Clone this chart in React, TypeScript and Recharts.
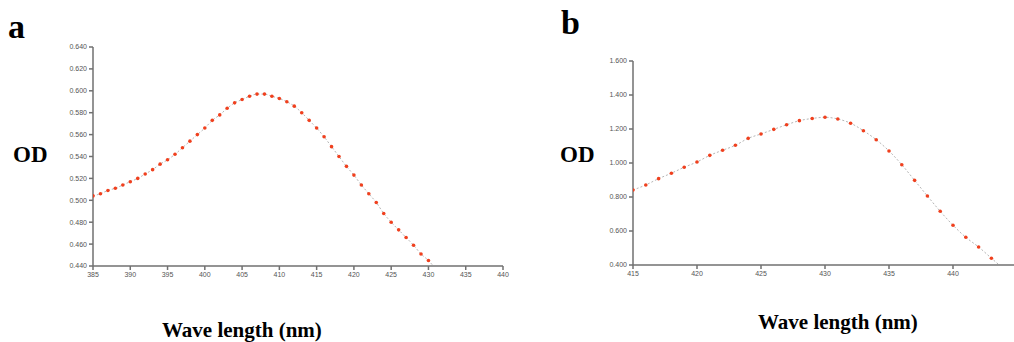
import React from 'react'
import { LineChart, Line, XAxis, YAxis } from 'recharts'

// panel a: wavelength (nm) and OD, last point is the line tail past the axis (no marker)
const wavelengthA = [
  385, 386, 387, 388, 389, 390, 391, 392, 393, 394, 395, 396, 397, 398, 399, 400,
  401, 402, 403, 404, 405, 406, 407, 408, 409, 410, 411, 412, 413, 414, 415, 416,
  417, 418, 419, 420, 421, 422, 423, 424, 425, 426, 427, 428, 429, 430, 431,
]
const odA = [
  0.504, 0.506, 0.509, 0.511, 0.514, 0.517, 0.52, 0.524, 0.528, 0.533, 0.537, 0.542,
  0.548, 0.554, 0.56, 0.566, 0.573, 0.578, 0.584, 0.589, 0.592, 0.595, 0.597, 0.597,
  0.595, 0.593, 0.59, 0.586, 0.58, 0.573, 0.566, 0.558, 0.549, 0.54, 0.531, 0.523,
  0.514, 0.506, 0.498, 0.488, 0.48, 0.473, 0.466, 0.459, 0.451, 0.445, 0.437,
]
const xTicksA = [385, 390, 395, 400, 405, 410, 415, 420, 425, 430, 435, 440]
const yTicksA = [0.44, 0.46, 0.48, 0.5, 0.52, 0.54, 0.56, 0.58, 0.6, 0.62, 0.64]

// panel b
const wavelengthB = [
  415, 416, 417, 418, 419, 420, 421, 422, 423, 424, 425, 426, 427, 428, 429, 430,
  431, 432, 433, 434, 435, 436, 437, 438, 439, 440, 441, 442, 443, 444,
]
const odB = [
  0.841, 0.871, 0.908, 0.94, 0.975, 1.006, 1.045, 1.075, 1.104, 1.145, 1.171, 1.198,
  1.225, 1.249, 1.262, 1.269, 1.259, 1.234, 1.19, 1.137, 1.071, 0.99, 0.898, 0.806,
  0.716, 0.634, 0.563, 0.506, 0.44, 0.375,
]
const xTicksB = [415, 420, 425, 430, 435, 440]
const yTicksB = [0.4, 0.6, 0.8, 1.0, 1.2, 1.4, 1.6]

const AXIS = '#707070'
const TICK_TEXT = { fontSize: 7, fill: '#555', fontFamily: 'Liberation Sans, Arial, sans-serif' }
const DOT = '#f0401e'

const serifBold: React.CSSProperties = {
  position: 'absolute',
  fontFamily: '"Liberation Serif", "Times New Roman", serif',
  fontWeight: 'bold',
  color: '#000',
  lineHeight: 1,
  whiteSpace: 'nowrap',
}

function makeDot(lastIndex: number) {
  return (props: any) => {
    const { cx, cy, index } = props
    if (index === lastIndex) return <g key={`d-${index}`} />
    return <circle key={`d-${index}`} cx={cx} cy={cy} r={1.8} fill={DOT} />
  }
}

interface PanelProps {
  xs: number[]
  ys: number[]
  xDomain: [number, number]
  yDomain: [number, number]
  xTicks: number[]
  yTicks: number[]
  width: number
  margin: { top: number; right: number; bottom: number; left: number }
}

function Panel({ xs, ys, xDomain, yDomain, xTicks, yTicks, width, margin }: PanelProps) {
  const data = xs.map((x, i) => ({ x, od: ys[i] }))
  return (
    <LineChart width={width} height={300} data={data} margin={margin}>
      <XAxis
        dataKey="x"
        type="number"
        domain={xDomain}
        ticks={xTicks}
        allowDataOverflow
        stroke={AXIS}
        strokeWidth={1.5}
        tickSize={4}
        tick={TICK_TEXT}
        height={20}
        interval={0}
      />
      <YAxis
        type="number"
        domain={yDomain}
        ticks={yTicks}
        allowDataOverflow
        stroke={AXIS}
        strokeWidth={1.5}
        tickSize={4}
        tick={TICK_TEXT}
        width={40}
        interval={0}
        tickFormatter={(v: number) => v.toFixed(3)}
      />
      <Line
        dataKey="od"
        type="monotone"
        stroke="#b5b5b5"
        strokeWidth={1}
        strokeDasharray="2 2"
        dot={makeDot(xs.length - 1)}
        activeDot={false}
        isAnimationActive={false}
      />
    </LineChart>
  )
}

export default function App() {
  return (
    <div
      style={{
        position: 'absolute',
        left: 0,
        top: 0,
        width: 1014,
        height: 342,
        overflow: 'hidden',
        background: '#fff',
      }}
    >
      <div style={{ position: 'absolute', left: 0, top: 0 }}>
        <Panel
          xs={wavelengthA}
          ys={odA}
          xDomain={[385, 440]}
          yDomain={[0.44, 0.64]}
          xTicks={xTicksA}
          yTicks={yTicksA}
          width={520}
          margin={{ top: 47, right: 17, bottom: 14, left: 53 }}
        />
      </div>
      <div style={{ position: 'absolute', left: 540, top: 0 }}>
        <Panel
          xs={wavelengthB}
          ys={odB}
          xDomain={[415, 445]}
          yDomain={[0.4, 1.6]}
          xTicks={xTicksB}
          yTicks={yTicksB}
          width={500}
          margin={{ top: 61, right: 23, bottom: 15, left: 53 }}
        />
      </div>

      <div style={{ ...serifBold, left: 8, top: 10, fontSize: 34 }}>a</div>
      <div style={{ ...serifBold, left: 561, top: 6, fontSize: 34 }}>b</div>
      <div style={{ ...serifBold, left: 13, top: 143, fontSize: 23 }}>OD</div>
      <div style={{ ...serifBold, left: 560, top: 143, fontSize: 23 }}>OD</div>
      <div style={{ ...serifBold, left: 162, top: 320, fontSize: 21 }}>Wave length (nm)</div>
      <div style={{ ...serifBold, left: 758, top: 312, fontSize: 21 }}>Wave length (nm)</div>
    </div>
  )
}
